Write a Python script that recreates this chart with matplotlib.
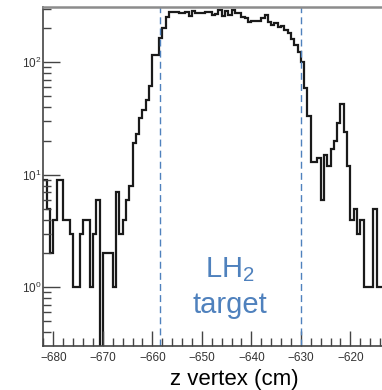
import numpy as np
import matplotlib.pyplot as plt
from matplotlib.ticker import MultipleLocator, LogLocator, LogFormatterSciNotation, NullFormatter

plt.rcParams['font.family'] = ['Liberation Sans', 'DejaVu Sans']
plt.rcParams['mathtext.default'] = 'regular'

# histogram: 2/3 cm bins starting at -682 cm
bin_lo = -682.0
bin_width = 2.0 / 3.0
counts = np.array([
    9, 5, 2, 4, 9, 9, 4, 4, 3, 1,
    1, 3, 4, 4, 1, 3, 6, 0, 2, 2,
    2, 1, 7, 3, 4, 6, 8, 19, 23, 32,
    38, 46, 62, 116, 116, 163, 200, 254, 282, 282,
    278, 272, 272, 282, 257, 285, 276, 276, 272, 282,
    282, 263, 268, 292, 257, 288, 263, 292, 272, 272,
    254, 246, 230, 234, 234, 234, 246, 263, 230, 215,
    222, 205, 210, 194, 181, 160, 143, 124, 101, 59,
    33, 13, 13, 14, 6, 15, 12, 17, 20, 29,
    43, 24, 12, 4, 5, 3, 4, 1, 1, 1,
    5, 1, 1,
], dtype=float)
edges = bin_lo + bin_width * np.arange(len(counts) + 1)

target_lines = [-658.5, -630.0]
target_label = 'LH$_2$'
target_label2 = 'target'
xlabel = 'z vertex (cm)'

blue = '#4f81bd'
frame = '#444444'

fig = plt.figure(figsize=(3.82, 3.90), dpi=100)
ax = fig.add_axes([43 / 382, 44 / 390, 339 / 382, 339 / 390])

ymin, ymax = 0.301, 310
# empty bins go down to the bottom of the frame
draw = np.where(counts > 0, counts, ymin * 0.1)
ax.stairs(draw, edges, baseline=None, color='#1a1a1a', lw=1.6)

for xv in target_lines:
    ax.plot([xv, xv], [ymin, ymax], color=blue, lw=1.0, ls=(0, (5, 3)))

ax.text(-644.3, 1.45, target_label, color=blue, fontsize=21, ha='center', va='center')
ax.text(-644.3, 0.69, target_label2, color=blue, fontsize=21, ha='center', va='center')

ax.set_yscale('log')
ax.set_xlim(-682.1, -613.6)
ax.set_ylim(ymin, ymax)

ax.xaxis.set_major_locator(MultipleLocator(10))
ax.xaxis.set_minor_locator(MultipleLocator(2))
ax.yaxis.set_major_locator(LogLocator(base=10))
ax.yaxis.set_major_formatter(LogFormatterSciNotation())
ax.yaxis.set_minor_locator(LogLocator(base=10, subs=np.arange(2, 10)))
ax.yaxis.set_minor_formatter(NullFormatter())

ax.tick_params(axis='both', which='both', direction='in', color=frame, width=1.0,
               labelcolor='#333333', labelsize=8.5)
ax.tick_params(axis='x', which='major', length=11, pad=4)
ax.tick_params(axis='x', which='minor', length=5.5)
ax.tick_params(axis='y', which='major', length=12, pad=1)
ax.tick_params(axis='y', which='minor', length=6)

ax.spines['right'].set_visible(False)
ax.spines['top'].set_color('#8c8c8c')
ax.spines['top'].set_linewidth(1.8)
ax.spines['left'].set_color(frame)
ax.spines['left'].set_linewidth(1.2)
ax.spines['bottom'].set_color(frame)
ax.spines['bottom'].set_linewidth(1.2)

fig.text(234 / 382, 1 - 379 / 390, xlabel, fontsize=16, ha='center', va='center', color='black')

fig.savefig('out.png', dpi=100)
